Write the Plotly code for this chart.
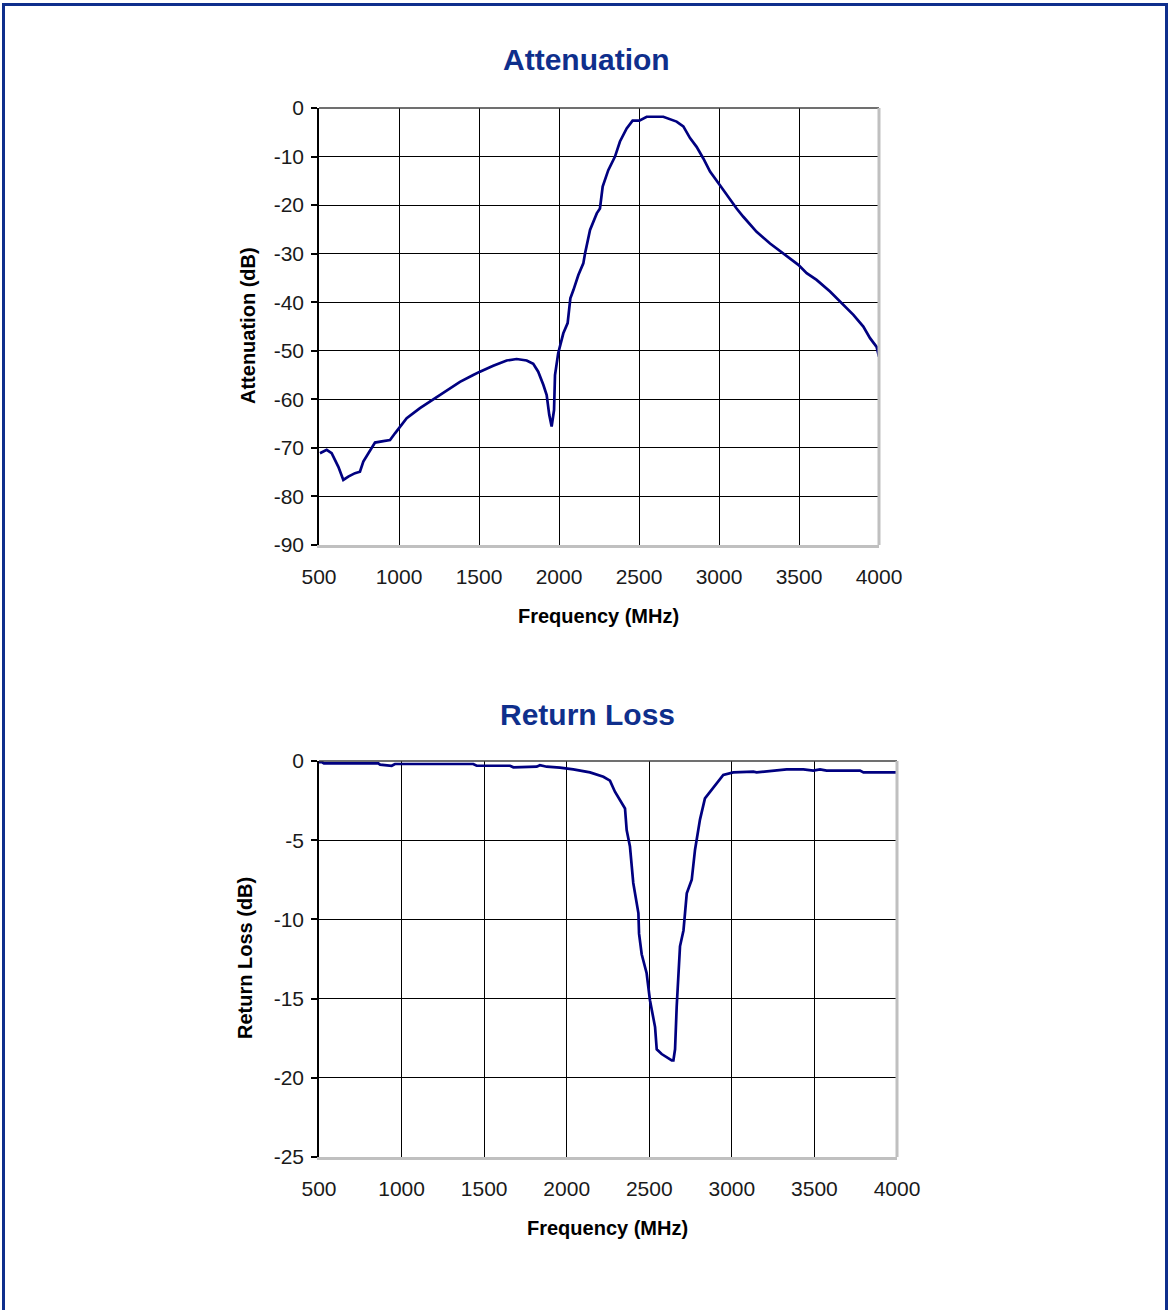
import plotly.graph_objects as go

# ---------------- data ----------------
att_freq = [506, 548, 579, 621, 652, 683, 725, 756, 777, 819, 850, 902, 944, 975, 1006,
            1048, 1131, 1214, 1298, 1381, 1464, 1506, 1589, 1673, 1735, 1798, 1839, 1870,
            1902, 1923, 1939, 1954, 1969, 1975, 1995, 2027, 2054, 2071, 2090, 2121, 2152,
            2163, 2194, 2236, 2256, 2273, 2308, 2350, 2381, 2423, 2460, 2502, 2548, 2652,
            2735, 2777, 2819, 2860, 2902, 2944, 3006, 3069, 3110, 3152, 3235, 3319, 3402,
            3496, 3548, 3610, 3694, 3756, 3840, 3902, 3944, 3985, 4000]
att_db = [-71.1, -70.4, -71.1, -73.9, -76.6, -75.9, -75.2, -74.9, -72.8, -70.4, -68.9,
          -68.6, -68.4, -67.0, -65.6, -63.9, -61.8, -60.0, -58.1, -56.4, -55.0, -54.3,
          -53.1, -52.0, -51.7, -52.0, -52.7, -54.3, -57.0, -59.1, -63.2, -65.6, -62.2,
          -55.0, -50.5, -46.4, -44.3, -39.2, -37.5, -34.4, -32.0, -29.9, -25.1, -21.7,
          -20.7, -16.2, -12.8, -10.0, -6.9, -4.2, -2.6, -2.6, -1.8, -1.8, -2.8, -3.8,
          -6.2, -8.0, -10.4, -13.1, -15.9, -18.9, -20.7, -22.4, -25.5, -27.9, -29.9,
          -32.3, -34.0, -35.4, -37.8, -39.9, -42.6, -45.0, -47.4, -49.2, -51.2]

rl_freq = [496, 520, 530, 859, 870, 940, 960, 1434, 1455, 1657, 1677, 1818, 1838, 1879,
           1959, 2040, 2141, 2222, 2262, 2292, 2353, 2363, 2383, 2403, 2434, 2438, 2454,
           2484, 2504, 2535, 2545, 2575, 2636, 2646, 2656, 2666, 2686, 2707, 2727, 2757,
           2777, 2807, 2837, 2868, 2908, 2948, 3009, 3130, 3150, 3251, 3332, 3433, 3493,
           3534, 3574, 3776, 3797, 3998]
rl_db = [-0.08, -0.08, -0.15, -0.15, -0.23, -0.30, -0.19, -0.19, -0.30, -0.30, -0.40,
         -0.36, -0.27, -0.36, -0.42, -0.53, -0.72, -1.0, -1.24, -1.94, -3.0, -4.36, -5.4,
         -7.7, -9.6, -10.9, -12.2, -13.4, -15.1, -16.8, -18.2, -18.5, -18.9, -18.9, -18.2,
         -15.5, -11.7, -10.7, -8.35, -7.5, -5.6, -3.7, -2.36, -1.94, -1.4, -0.88, -0.72,
         -0.67, -0.72, -0.61, -0.53, -0.53, -0.61, -0.53, -0.61, -0.61, -0.72, -0.72]

x_ticks = [500, 1000, 1500, 2000, 2500, 3000, 3500, 4000]
att_ticks = [0, -10, -20, -30, -40, -50, -60, -70, -80, -90]
att_ticktext = ["0", "-10", "-20", "-30", "-40", "-50", "-60", "-70", "-80", "-90"]
rl_ticks = [0, -5, -10, -15, -20, -25]
rl_ticktext = ["0", "-5", "-10", "-15", "-20", "-25"]

# ---------------- layout ----------------
W, H = 1170, 1310
NAVY = "#000080"
TITLE_BLUE = "#0f2f8c"
FONT = "Liberation Sans, Arial, sans-serif"


def px(xp):
    return xp / W


def py(yp):
    return 1 - yp / H


fig = go.Figure()
fig.add_trace(go.Scatter(x=att_freq, y=att_db, mode="lines", xaxis="x", yaxis="y",
                         line=dict(color=NAVY, width=2.7), showlegend=False))
fig.add_trace(go.Scatter(x=rl_freq, y=rl_db, mode="lines", xaxis="x2", yaxis="y2",
                         line=dict(color=NAVY, width=2.7), showlegend=False))

tickfont = dict(family=FONT, size=21, color="#1a1a1a")


def xaxis_def(domain, anchor):
    return dict(domain=domain, anchor=anchor, range=[500, 4000], tickmode="array",
                tickvals=x_ticks, showgrid=True, gridcolor="black", gridwidth=1,
                showline=True, linecolor="#c0c0c0", linewidth=2.5, ticks="",
                zeroline=False, tickfont=tickfont, ticklabelstandoff=11, fixedrange=True,
                automargin=False)


def yaxis_def(domain, anchor, rng, vals, text):
    return dict(domain=domain, anchor=anchor, range=rng, tickmode="array",
                tickvals=vals, ticktext=text, showgrid=True, gridcolor="black",
                gridwidth=1, showline=True, linecolor="black", linewidth=1.5,
                ticks="outside", ticklen=6, tickcolor="black", tickwidth=1.5,
                zeroline=False, tickfont=tickfont, ticklabelstandoff=3, fixedrange=True,
                automargin=False)


fig.update_layout(
    width=W, height=H, margin=dict(l=0, r=0, t=0, b=0, pad=0, autoexpand=False),
    paper_bgcolor="white", plot_bgcolor="white",
    xaxis=xaxis_def([px(319), px(879)], "y"),
    yaxis=yaxis_def([py(545), py(108)], "x", [-90, 0], att_ticks, att_ticktext),
    xaxis2=xaxis_def([px(319), px(897)], "y2"),
    yaxis2=yaxis_def([py(1157), py(761)], "x2", [-25, 0], rl_ticks, rl_ticktext),
)

shapes = [
    dict(type="rect", xref="paper", yref="paper", x0=px(3.5), x1=px(1166.5), y0=py(1330), y1=py(4.5),
         line=dict(color=TITLE_BLUE, width=3), fillcolor="rgba(0,0,0,0)", layer="above"),
]
for xr, yr in (("x", "y"), ("x2", "y2")):
    shapes.append(dict(type="line", xref=f"{xr} domain", yref=f"{yr} domain",
                       x0=0, x1=1, y0=1, y1=1, line=dict(color="#404040", width=1.5)))
    shapes.append(dict(type="line", xref=f"{xr} domain", yref=f"{yr} domain",
                       x0=1, x1=1, y0=0, y1=1, line=dict(color="#c0c0c0", width=3)))
fig.update_layout(shapes=shapes)

ann = []


def add_text(text, x, y, size, color, angle=0):
    ann.append(dict(text=f"<b>{text}</b>", x=px(x), y=py(y), xref="paper", yref="paper",
                    showarrow=False, xanchor="center", yanchor="middle", textangle=angle,
                    font=dict(family=FONT, size=size, color=color)))


add_text("Attenuation", 586, 60, 30, TITLE_BLUE)
add_text("Return Loss", 587, 714, 30, TITLE_BLUE)
add_text("Frequency (MHz)", 598, 616, 20, "black")
add_text("Frequency (MHz)", 607, 1228, 20, "black")
add_text("Attenuation (dB)", 248, 326, 20, "black", -90)
add_text("Return Loss (dB)", 245, 958, 20, "black", -90)
fig.update_layout(annotations=ann)

fig.write_html("out.html", config={"displayModeBar": False},
               post_script="document.body.style.margin='0';")
